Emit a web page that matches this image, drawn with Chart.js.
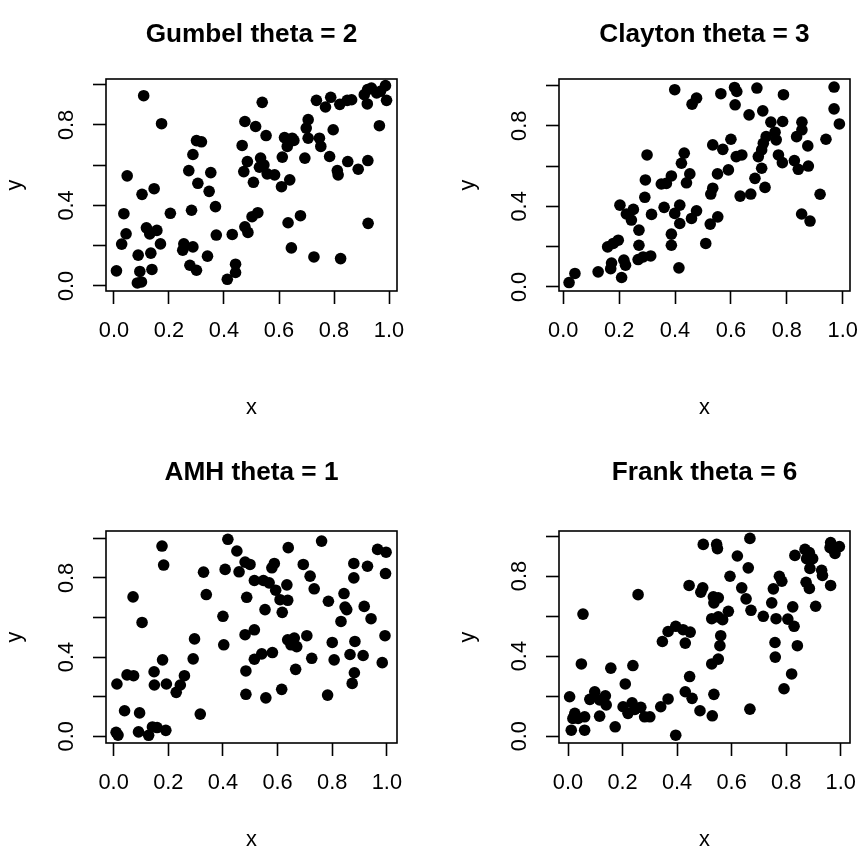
<!DOCTYPE html>
<html>
<head>
<meta charset="utf-8">
<script src="https://cdn.jsdelivr.net/npm/chart.js@4"></script>
<style>
  html, body { margin: 0; padding: 0; width: 859px; height: 846px; overflow: hidden; background: #fff; }
  .cell { position: absolute; width: 453px; height: 452px; }
</style>
</head>
<body>
<div class="cell" style="left:0;top:0"><canvas id="c0" width="453" height="452"></canvas></div>
<div class="cell" style="left:453px;top:0"><canvas id="c1" width="453" height="452"></canvas></div>
<div class="cell" style="left:0;top:452px"><canvas id="c2" width="453" height="452"></canvas></div>
<div class="cell" style="left:453px;top:452px"><canvas id="c3" width="453" height="452"></canvas></div>
<script>
// tick positions and which y ticks get a label (R drops the others)
const tickVals = [0, 0.2, 0.4, 0.6, 0.8, 1.0];
const yLabelVals = [0, 0.4, 0.8];

const titles = ['Gumbel theta = 2', 'Clayton theta = 3', 'AMH theta = 1', 'Frank theta = 6'];

// Gumbel theta = 2
const gumbelX = [0.108, 0.173, 0.048, 0.102, 0.146, 0.036, 0.044, 0.028, 0.118, 0.130, 0.156, 0.169, 0.088, 0.134, 0.009, 0.094, 0.138, 0.085, 0.100, 0.205,
  0.254, 0.287, 0.250, 0.276, 0.300, 0.282, 0.300, 0.318, 0.287, 0.272, 0.305, 0.352, 0.346, 0.369, 0.372, 0.340, 0.430, 0.412, 0.442, 0.442,
  0.476, 0.515, 0.466, 0.485, 0.472, 0.507, 0.502, 0.476, 0.487,
  0.539, 0.553, 0.523, 0.533, 0.545, 0.529, 0.557, 0.584, 0.612, 0.620, 0.648, 0.630, 0.654, 0.609, 0.639, 0.694, 0.706, 0.699, 0.706, 0.736,
  0.769, 0.788, 0.821, 0.848, 0.864, 0.747, 0.752, 0.797, 0.784, 0.812, 0.815, 0.850, 0.888, 0.923, 0.922, 0.936, 0.955, 0.987, 0.921, 0.910,
  0.969, 0.991, 0.965, 0.633, 0.678, 0.645, 0.727, 0.824, 0.924];
const gumbelY = [0.945, 0.806, 0.547, 0.455, 0.483, 0.359, 0.259, 0.208, 0.289, 0.258, 0.276, 0.209, 0.153, 0.163, 0.075, 0.072, 0.082, 0.015, 0.020, 0.361,
  0.209, 0.194, 0.178, 0.103, 0.078, 0.376, 0.722, 0.716, 0.653, 0.573, 0.510, 0.563, 0.470, 0.394, 0.253, 0.148, 0.256, 0.033, 0.108, 0.067,
  0.817, 0.792, 0.698, 0.618, 0.568, 0.515, 0.344, 0.294, 0.266,
  0.912, 0.747, 0.364, 0.635, 0.601, 0.590, 0.557, 0.552, 0.640, 0.737, 0.734, 0.693, 0.723, 0.493, 0.527, 0.635, 0.826, 0.784, 0.734, 0.922,
  0.889, 0.937, 0.902, 0.922, 0.925, 0.734, 0.693, 0.776, 0.643, 0.573, 0.552, 0.618, 0.580, 0.623, 0.975, 0.983, 0.959, 0.995, 0.904, 0.950,
  0.967, 0.922, 0.796, 0.314, 0.349, 0.189, 0.144, 0.136, 0.311];

// Clayton theta = 3
const claytonX = [0.021, 0.042, 0.125, 0.173, 0.170, 0.209, 0.217, 0.223, 0.159, 0.179, 0.197, 0.271, 0.268, 0.286, 0.313, 0.271, 0.203, 0.226, 0.244, 0.251,
  0.292, 0.316, 0.294, 0.300, 0.351, 0.369, 0.387, 0.361, 0.387, 0.387, 0.414, 0.399, 0.417, 0.417, 0.399, 0.461, 0.477, 0.433, 0.423, 0.453,
  0.441, 0.459, 0.477,
  0.564, 0.613, 0.621, 0.693, 0.788, 0.615, 0.665, 0.714, 0.743, 0.785, 0.969, 0.969, 0.988, 0.854, 0.854, 0.835, 0.940, 0.875, 0.758, 0.762,
  0.726, 0.716, 0.710, 0.698, 0.535, 0.571, 0.600, 0.619, 0.639, 0.770, 0.784, 0.827, 0.841, 0.877, 0.710, 0.686, 0.722, 0.591, 0.552, 0.535,
  0.528, 0.633, 0.671, 0.553, 0.526, 0.510, 0.919, 0.853, 0.883];
const claytonY = [0.022, 0.067, 0.075, 0.119, 0.091, 0.047, 0.133, 0.108, 0.199, 0.216, 0.232, 0.207, 0.136, 0.149, 0.154, 0.282, 0.406, 0.362, 0.332, 0.385,
  0.445, 0.360, 0.531, 0.655, 0.511, 0.514, 0.551, 0.395, 0.262, 0.207, 0.095, 0.365, 0.406, 0.315, 0.979, 0.907, 0.937, 0.664, 0.614, 0.561,
  0.517, 0.340, 0.378,
  0.959, 0.990, 0.970, 0.987, 0.954, 0.904, 0.854, 0.874, 0.818, 0.821, 0.992, 0.884, 0.809, 0.818, 0.780, 0.746, 0.733, 0.700, 0.768, 0.730,
  0.746, 0.713, 0.680, 0.647, 0.705, 0.683, 0.733, 0.647, 0.655, 0.655, 0.617, 0.627, 0.584, 0.600, 0.589, 0.539, 0.494, 0.581, 0.561, 0.490,
  0.461, 0.451, 0.461, 0.348, 0.312, 0.216, 0.460, 0.362, 0.327];

// AMH theta = 1
const amhX = [0.177, 0.183, 0.071, 0.104, 0.012, 0.049, 0.073, 0.040, 0.095, 0.009, 0.016, 0.091, 0.128, 0.142, 0.159, 0.191, 0.148, 0.179, 0.149, 0.193,
  0.229, 0.244, 0.259, 0.296, 0.291, 0.317, 0.329, 0.339, 0.418, 0.451, 0.408, 0.459, 0.481, 0.499, 0.515, 0.487, 0.400, 0.403, 0.481, 0.515,
  0.484, 0.515, 0.484,
  0.639, 0.761, 0.579, 0.588, 0.694, 0.719, 0.734, 0.593, 0.634, 0.609, 0.637, 0.554, 0.617, 0.548, 0.569, 0.786, 0.843, 0.847, 0.853, 0.832,
  0.879, 0.929, 0.879, 0.966, 0.997, 0.995, 0.917, 0.942, 0.993, 0.637, 0.661, 0.649, 0.670, 0.707, 0.800, 0.883, 0.542, 0.581, 0.725, 0.807,
  0.865, 0.913, 0.983, 0.666, 0.881, 0.873, 0.615, 0.557, 0.783];
const amhY = [0.961, 0.865, 0.704, 0.575, 0.264, 0.310, 0.306, 0.129, 0.118, 0.020, 0.006, 0.022, 0.005, 0.047, 0.044, 0.030, 0.326, 0.386, 0.259, 0.264,
  0.222, 0.259, 0.306, 0.492, 0.391, 0.112, 0.829, 0.716, 0.995, 0.936, 0.843, 0.831, 0.880, 0.868, 0.787, 0.702, 0.606, 0.462, 0.513, 0.538,
  0.330, 0.389, 0.212,
  0.953, 0.986, 0.851, 0.873, 0.868, 0.809, 0.745, 0.738, 0.765, 0.690, 0.687, 0.640, 0.626, 0.787, 0.775, 0.682, 0.721, 0.653, 0.640, 0.580,
  0.873, 0.859, 0.800, 0.944, 0.930, 0.822, 0.656, 0.594, 0.508, 0.487, 0.496, 0.462, 0.453, 0.508, 0.474, 0.479, 0.416, 0.423, 0.394, 0.386,
  0.413, 0.408, 0.372, 0.338, 0.321, 0.267, 0.237, 0.194, 0.208];

// Frank theta = 6
const frankX = [0.006, 0.012, 0.061, 0.025, 0.037, 0.018, 0.061, 0.055, 0.049, 0.080, 0.098, 0.116, 0.137, 0.140, 0.116, 0.157, 0.173, 0.210, 0.238, 0.257,
  0.202, 0.220, 0.235, 0.245, 0.267, 0.281, 0.300, 0.340, 0.367, 0.395, 0.346, 0.367, 0.395, 0.422, 0.448, 0.430, 0.444, 0.446, 0.430, 0.455,
  0.496, 0.545, 0.548, 0.667, 0.621, 0.661, 0.594, 0.637, 0.653, 0.671, 0.494, 0.487, 0.533, 0.551, 0.535, 0.588, 0.527, 0.551, 0.567, 0.560,
  0.557, 0.527, 0.551, 0.484, 0.529, 0.535, 0.667, 0.716, 0.747, 0.763, 0.753, 0.775, 0.784, 0.806, 0.824, 0.829, 0.759, 0.760, 0.841, 0.820,
  0.792, 0.832, 0.869, 0.885, 0.875, 0.897, 0.887, 0.873, 0.885, 0.930, 0.933, 0.963, 0.908, 0.963, 0.973, 0.995, 0.979, 0.961];
const frankY = [0.197, 0.030, 0.030, 0.114, 0.089, 0.089, 0.097, 0.610, 0.361, 0.184, 0.222, 0.181, 0.202, 0.156, 0.100, 0.340, 0.047, 0.261, 0.353, 0.707,
  0.147, 0.114, 0.167, 0.134, 0.144, 0.097, 0.097, 0.147, 0.186, 0.005, 0.473, 0.523, 0.549, 0.532, 0.520, 0.465, 0.753, 0.298, 0.222, 0.189,
  0.958, 0.958, 0.937, 0.988, 0.900, 0.841, 0.799, 0.741, 0.686, 0.629, 0.741, 0.719, 0.696, 0.691, 0.666, 0.624, 0.587, 0.596, 0.582, 0.502,
  0.452, 0.361, 0.385, 0.127, 0.102, 0.209, 0.135, 0.599, 0.666, 0.587, 0.736, 0.799, 0.774, 0.585, 0.646, 0.549, 0.468, 0.395, 0.452, 0.311,
  0.237, 0.903, 0.933, 0.917, 0.887, 0.887, 0.838, 0.769, 0.738, 0.829, 0.803, 0.753, 0.649, 0.967, 0.933, 0.947, 0.913, 0.942];

// axis limits as R extends the data range (4% each side)
const panels = [
  { id: 'c0', title: titles[0], xs: gumbelX, ys: gumbelY, xlim: [-0.029, 1.029], ylim: [-0.025, 1.028], top: 18.7, xlabGap: 31 },
  { id: 'c1', title: titles[1], xs: claytonX, ys: claytonY, xlim: [-0.015, 1.026], ylim: [-0.020, 1.032], top: 18.7, xlabGap: 31 },
  { id: 'c2', title: titles[2], xs: amhX, ys: amhY, xlim: [-0.028, 1.037], ylim: [-0.034, 1.037], top: 4.7, xlabGap: 51 },
  { id: 'c3', title: titles[3], xs: frankX, ys: frankY, xlim: [-0.033, 1.034], ylim: [-0.034, 1.025], top: 4.7, xlabGap: 51 }
];

const FONT = "'Liberation Sans', Arial, Helvetica, sans-serif";
const LW = 1.6;

// full box round the plot region, like R's box()
const framePlugin = {
  id: 'frame',
  afterDraw(chart) {
    const { ctx, chartArea: a } = chart;
    ctx.save();
    ctx.strokeStyle = '#000';
    ctx.lineWidth = LW;
    ctx.strokeRect(a.left, a.top, a.right - a.left, a.bottom - a.top);
    ctx.restore();
  }
};

function setTicks(scale) {
  scale.ticks = tickVals.map(v => ({ value: v }));
}

function makeChart(p) {
  const points = p.xs.map((x, i) => ({ x: x, y: p.ys[i] }));
  const grid = {
    drawOnChartArea: false,
    drawTicks: true,
    tickLength: 13,
    tickWidth: LW,
    tickColor: '#000',
    color: '#000'
  };
  new Chart(document.getElementById(p.id), {
    type: 'scatter',
    data: {
      datasets: [{
        data: points,
        pointRadius: 5.8,
        pointHoverRadius: 5.8,
        pointBackgroundColor: '#000',
        pointBorderWidth: 0
      }]
    },
    plugins: [framePlugin],
    options: {
      responsive: false,
      animation: false,
      events: [],
      layout: { padding: { left: 0, right: 56, top: 0, bottom: 0 } },
      plugins: {
        legend: { display: false },
        tooltip: { enabled: false },
        title: {
          display: true,
          text: p.title,
          fullSize: false,
          color: '#000',
          font: { family: FONT, size: 26.2, weight: 'bold' },
          // title block is 79px tall so the plot box starts at y=79
          padding: { top: p.top, bottom: 79 - 31.44 - p.top }
        }
      },
      scales: {
        x: {
          type: 'linear',
          position: 'bottom',
          min: p.xlim[0],
          max: p.xlim[1],
          afterBuildTicks: setTicks,
          afterFit: s => { s.height = 161; },
          grid: grid,
          border: { display: false },
          ticks: {
            autoSkip: false,
            maxRotation: 0,
            padding: 13.7,
            color: '#000',
            font: { family: FONT, size: 21.8 },
            callback: v => v.toFixed(1)
          },
          title: {
            display: true,
            text: 'x',
            color: '#000',
            font: { family: FONT, size: 21.8 },
            padding: { top: 0, bottom: p.xlabGap }
          }
        },
        y: {
          type: 'linear',
          position: 'left',
          min: p.ylim[0],
          max: p.ylim[1],
          afterBuildTicks: setTicks,
          afterFit: s => { s.width = 106; },
          grid: grid,
          border: { display: false },
          ticks: {
            autoSkip: false,
            minRotation: 90,
            maxRotation: 90,
            crossAlign: 'center',
            padding: 10.6,
            color: '#000',
            font: { family: FONT, size: 21.8 },
            callback: v => (yLabelVals.includes(v) ? v.toFixed(1) : '')
          },
          title: {
            display: true,
            text: 'y',
            color: '#000',
            font: { family: FONT, size: 21.8 },
            padding: { top: 1.6, bottom: 0 }
          }
        }
      }
    }
  });
}

panels.forEach(makeChart);
</script>
</body>
</html>
